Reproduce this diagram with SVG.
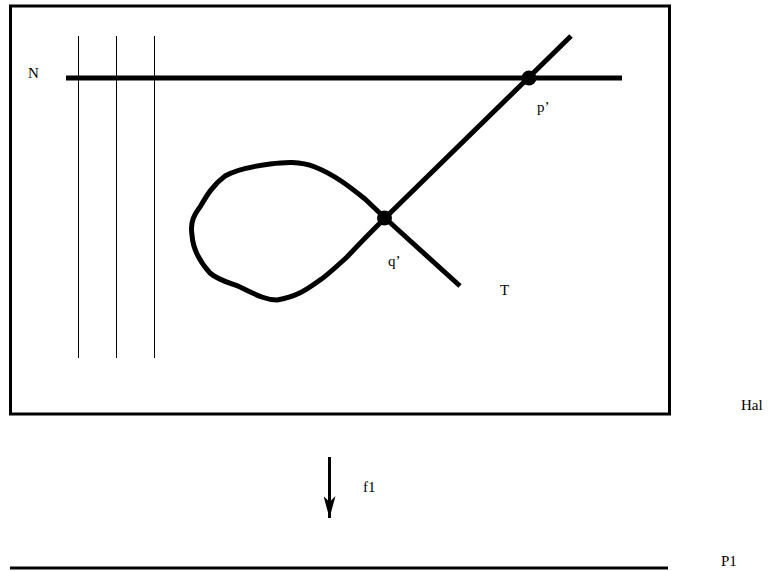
<svg xmlns="http://www.w3.org/2000/svg" width="769" height="571" viewBox="0 0 769 571">
<style>
text{font-family:"Liberation Serif","Times New Roman",serif;font-size:15px;fill:#000}
.thin{stroke:#000;stroke-width:1;fill:none}
.thick{stroke:#000;stroke-width:5;fill:none}
</style>
<defs>
<marker id="ah" viewBox="0 0 22 12" refX="22" refY="6" markerWidth="22" markerHeight="12" markerUnits="userSpaceOnUse" orient="auto">
<path d="M0,0 L22,6 L0,12 L6,6 Z" fill="#000"/>
</marker>
</defs>
<rect id="box" x="10.5" y="6" width="659" height="408" fill="none" stroke="#000" stroke-width="3"/>
<g id="fibres">
<line class="thin" x1="78.5" y1="36" x2="78.5" y2="358"/>
<line class="thin" x1="116.5" y1="36" x2="116.5" y2="358"/>
<line class="thin" x1="154.5" y1="36" x2="154.5" y2="358" stroke="#666"/>
</g>
<g id="N-line"><line class="thick" x1="66" y1="78" x2="622" y2="78"/></g>
<g id="curve">
<path class="thick" stroke-linejoin="round" d="M571,36 L385,218 C375,228 360,243 347,257 C335,268 325,277 320,280 C305,291 295,297 277,300 C265,300 255,294 240,287 C230,283 218,280 210,273 C200,262 193,250 192,235 C190,222 194,215 200,207 C207,195 213,185 225,176 C235,170 255,166 270,164 C285,162 300,161 315,167 C335,175 350,187 365,199 L385,218 L460,286"/>
</g>
<g id="p-point"><circle cx="529" cy="78" r="7.5" fill="#000"/></g>
<g id="q-point"><circle cx="384.5" cy="218" r="7.5" fill="#000"/></g>
<g id="connectors">
<line x1="329.5" y1="457" x2="329.5" y2="518" stroke="#000" stroke-width="3" marker-end="url(#ah)"/>
</g>
<g id="base"><line x1="10" y1="568" x2="668" y2="568" stroke="#000" stroke-width="3"/></g>
<text x="28" y="78">N</text>
<text x="537" y="112">p’</text>
<text x="388" y="266">q’</text>
<text x="500" y="295">T</text>
<text x="741" y="410">Hal</text>
<text x="363" y="492">f1</text>
<text x="721" y="566">P1</text>
</svg>
